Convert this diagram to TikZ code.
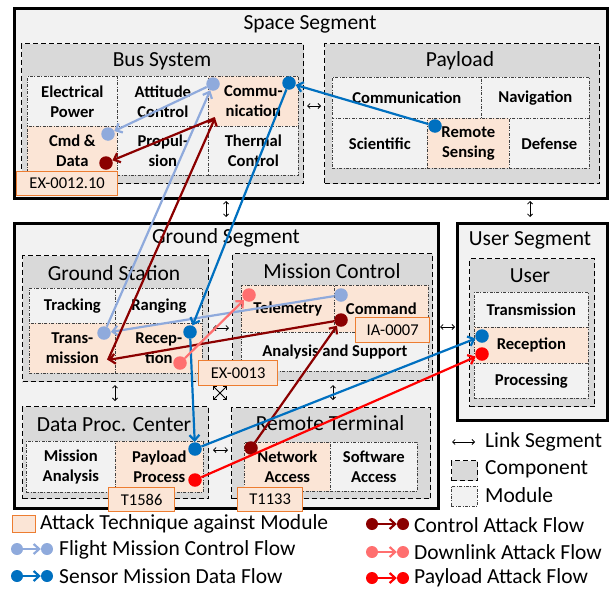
\documentclass[tikz,border=0pt]{standalone}
\usepackage{fontspec}
\setmainfont{Carlito}
\usetikzlibrary{arrows.meta}
\definecolor{segfill}{HTML}{F2F2F2}
\definecolor{compfill}{HTML}{D9D9D9}
\definecolor{peach}{HTML}{FBE5D6}
\definecolor{atkorange}{HTML}{ED7D31}
\definecolor{fltblue}{HTML}{8FAADC}
\definecolor{senblue}{HTML}{0070C0}
\definecolor{ctlred}{HTML}{8B0000}
\definecolor{dlpink}{HTML}{FF6F6F}
\definecolor{plred}{HTML}{FF0000}
\tikzset{
 segbox/.style={draw=black, line width=2.8pt, fill=segfill, anchor=north west, inner sep=0pt},
 compbox/.style={draw=black, line width=1.4pt, dash pattern=on 5pt off 3pt, fill=compfill, anchor=north west, inner sep=0pt},
 modbox/.style={draw=black!75, line width=0.7pt, dash pattern=on 3pt off 1.5pt on 0.8pt off 1.5pt, fill=segfill, anchor=north west, inner sep=0pt, align=center, font=\bfseries\fontsize{16.6}{20}\selectfont},
 atkmod/.style={modbox, fill=peach},
 techbox/.style={draw=atkorange, line width=1.3pt, fill=peach, anchor=north west, inner sep=0pt, font=\fontsize{16.5}{19}\selectfont},
 ttl/.style={font=\fontsize{21.5}{24}\selectfont, inner sep=0pt},
 legtxt/.style={font=\fontsize{21.5}{24}\selectfont, inner sep=0pt, anchor=west},
 linkarr/.style={line width=0.8pt, {Straight Barb[length=2.5pt,width=5pt]}-{Straight Barb[length=2.5pt,width=5pt]}},
 flow/.style={line width=2.2pt, -{Straight Barb[length=5.5pt,width=10pt]}},
 dot/.style={circle, inner sep=0pt, minimum size=13.5pt},
 ldot/.style={circle, inner sep=0pt, minimum size=12pt},
}
\begin{document}
\begin{tikzpicture}[x=1pt,y=-1pt]
\useasboundingbox (0,0) rectangle (612,589);
% ---------- segments ----------
\node[segbox, minimum width=593pt, minimum height=190pt] (space) at (13,7) {};
\node[segbox, minimum width=424pt, minimum height=285pt] (ground) at (13,222) {};
\node[segbox, minimum width=150pt, minimum height=197pt] (userseg) at (456,222) {};
\node[ttl] (tspace) at (310,24) {Space Segment};
\node[ttl] (tground) at (226,238) {Ground Segment};
\node[ttl] (tuserseg) at (530,240) {User Segment};
% ---------- components ----------
\node[compbox, minimum width=282pt, minimum height=140pt] (bus) at (21,43) {};
\node[compbox, minimum width=275pt, minimum height=140pt] (payload) at (324,43) {};
\node[compbox, minimum width=186pt, minimum height=126pt] (gs) at (22,255) {};
\node[compbox, minimum width=200pt, minimum height=127pt] (mc) at (232,253) {};
\node[compbox, minimum width=186pt, minimum height=92pt] (dpc) at (22,406) {};
\node[compbox, minimum width=199pt, minimum height=91pt] (rt) at (231,407) {};
\node[compbox, minimum width=125pt, minimum height=148pt] (user) at (469,258) {};
\node[ttl] (tbus) at (162,61) {Bus System};
\node[ttl] (tpay) at (460,61) {Payload};
\node[ttl] (tgs) at (114,273) {Ground Station};
\node[ttl] (tmc) at (332,271) {Mission Control};
\node[ttl] (tdpc) at (114,425) {Data Proc. Center};
\node[ttl] (trt) at (330,423) {Remote Terminal};
\node[ttl] (tuser) at (530,276) {User};
% ---------- modules ----------
% Bus
\node[modbox, minimum width=90pt, minimum height=50pt] (eps) at (27,76) {Electrical\\Power};
\node[modbox, minimum width=91pt, minimum height=50pt] (acs) at (117,76) {Attitude\\Control};
\node[atkmod, minimum width=90pt, minimum height=50pt] (bcom) at (208,76) {Commu-\\nication};
\node[atkmod, minimum width=90pt, minimum height=49pt] (cdh) at (27,126) {Cmd \&\\Data};
\node[modbox, minimum width=91pt, minimum height=49pt] (prop) at (117,126) {Propul-\\sion};
\node[modbox, minimum width=90pt, minimum height=49pt] (thc) at (208,126) {Thermal\\Control};
% Payload
\node[modbox, minimum width=149pt, minimum height=41pt] (pcom) at (332,77) {Communication};
\node[modbox, minimum width=108pt, minimum height=41pt] (pnav) at (481,77) {Navigation};
\node[modbox, minimum width=95pt, minimum height=50pt] (psci) at (332,118) {Scientific};
\node[atkmod, minimum width=82pt, minimum height=50pt] (prs) at (427,118) {Remote\\Sensing};
\node[modbox, minimum width=80pt, minimum height=50pt] (pdef) at (509,118) {Defense};
% Ground station
\node[modbox, minimum width=86pt, minimum height=35pt] (trk) at (29,288) {Tracking};
\node[modbox, minimum width=87pt, minimum height=35pt] (rng) at (115,288) {Ranging};
\node[atkmod, minimum width=86pt, minimum height=50pt] (gtx) at (29,323) {Trans-\\mission};
\node[atkmod, minimum width=87pt, minimum height=50pt] (grx) at (115,323) {Recep-\\tion};
% Mission control
\node[atkmod, minimum width=93pt, minimum height=47pt] (tlm) at (241,285) {Telemetry};
\node[atkmod, minimum width=94pt, minimum height=47pt] (cmd) at (334,285) {Command};
\node[modbox, minimum width=187pt, minimum height=39pt] (ans) at (241,332) {Analysis and Support};
% Data proc center
\node[modbox, minimum width=89pt, minimum height=51pt] (man) at (26,441) {Mission\\Analysis};
\node[atkmod, minimum width=88pt, minimum height=51pt] (ppr) at (115,441) {Payload\\Process};
% Remote terminal
\node[atkmod, minimum width=86pt, minimum height=49pt] (nac) at (244,442) {Network\\Access};
\node[modbox, minimum width=87pt, minimum height=49pt] (sac) at (330,442) {Software\\Access};
% User
\node[modbox, minimum width=114pt, minimum height=35pt] (utx) at (474,292) {Transmission};
\node[atkmod, minimum width=114pt, minimum height=36pt] (urx) at (474,327) {Reception};
\node[modbox, minimum width=114pt, minimum height=35pt] (upr) at (474,363) {Processing};
% ---------- attack technique labels ----------
\node[techbox, minimum width=101pt, minimum height=24pt] (ex12) at (16,171) {EX-0012.10};
\node[techbox, minimum width=79pt, minimum height=25pt] (ex13) at (198,360) {EX-0013};
\node[techbox, minimum width=74pt, minimum height=25pt] (ia7) at (355,317) {IA-0007};
\node[techbox, minimum width=66pt, minimum height=24pt] (t1586) at (108,487) {T1586};
\node[techbox, minimum width=65pt, minimum height=24pt] (t1133) at (237,487) {T1133};
% ---------- link segments ----------
\draw[linkarr] (307,106) -- (321,106);
\draw[linkarr] (226,201) -- (226,217);
\draw[linkarr] (530,201) -- (530,217);
\draw[linkarr] (213,328) -- (229,328);
\draw[linkarr] (440,327) -- (455,327);
\draw[linkarr] (115,385) -- (115,401);
\draw[linkarr] (213,386) -- (227,400);
\draw[linkarr] (213,400) -- (227,386);
\draw[linkarr] (333,385) -- (333,400);
\draw[linkarr] (213,450) -- (228,450);
% ---------- flow dots ----------
\node[dot, fill=fltblue] (lbCmd) at (341,295) {};
\node[dot, fill=fltblue] (lbTx) at (104,333) {};
\node[dot, fill=fltblue] (lbCom) at (213,84) {};
\node[dot, fill=fltblue] (lbCdh) at (108,134) {};
\node[dot, fill=ctlred] (crNa) at (251,448) {};
\node[dot, fill=ctlred] (crCmd) at (341,320) {};
\node[dot, fill=ctlred] (crCdh) at (106,163) {};
\coordinate (crTx) at (108,360);
\coordinate (crCom) at (215,118);
\node[dot, fill=senblue] (sbRs) at (435,126) {};
\node[dot, fill=senblue] (sbCom) at (289,83) {};
\node[dot, fill=senblue] (sbRx) at (190,332) {};
\node[dot, fill=senblue] (sbPp) at (195,449) {};
\node[dot, fill=senblue] (sbUr) at (482,336) {};
\node[dot, fill=dlpink] (dpRx) at (180,363) {};
\node[dot, fill=dlpink] (dpTlm) at (249,295) {};
\node[dot, fill=plred] (prPp) at (195,480) {};
\node[dot, fill=plred] (prUr) at (482,354) {};
% ---------- flows ----------
\draw[flow, fltblue] (lbCmd) -- (lbTx);
\draw[flow, fltblue] (lbTx) -- (lbCom);
\draw[flow, fltblue] (lbCom) -- (lbCdh);
\draw[flow, ctlred] (crNa) -- (crCmd);
\draw[flow, ctlred] (crCmd) -- (crTx);
\draw[flow, ctlred] (crTx) -- (crCom);
\draw[flow, ctlred] (crCom) -- (crCdh);
\draw[flow, senblue] (sbRs) -- (sbCom);
\draw[flow, senblue] (sbCom) -- (sbRx);
\draw[flow, senblue] (sbRx) -- (sbPp);
\draw[flow, senblue] (sbPp) -- (sbUr);
\draw[flow, dlpink] (dpRx) -- (dpTlm);
\draw[flow, plred] (prPp) -- (prUr);
% ---------- legend ----------
\draw[linkarr] (452,442) -- (475,442);
\node[legtxt] (lLink) at (485,442) {Link Segment};
\node[compbox, minimum width=26pt, minimum height=20pt] (legComp) at (451,460) {};
\node[legtxt] (lComp) at (485,469) {Component};
\node[modbox, minimum width=26pt, minimum height=20pt] (legMod) at (451,486) {};
\node[legtxt] (lMod) at (485,495) {Module};
\node[techbox, minimum width=23pt, minimum height=17pt] (legTech) at (12,515) {};
\node[legtxt] (lTech) at (40,524) {Attack Technique against Module};
\node[ldot, fill=fltblue] (lg1a) at (17,549) {};
\node[ldot, fill=fltblue] (lg1b) at (47,549) {};
\draw[flow, fltblue] (lg1a) -- (lg1b);
\node[legtxt] (lFl) at (59,550) {Flight Mission Control Flow};
\node[ldot, fill=senblue] (lg2a) at (17,576) {};
\node[ldot, fill=senblue] (lg2b) at (47,576) {};
\draw[flow, senblue] (lg2a) -- (lg2b);
\node[legtxt] (lSe) at (59,576) {Sensor Mission Data Flow};
\node[ldot, fill=ctlred] (lg3a) at (372,524) {};
\node[ldot, fill=ctlred] (lg3b) at (403,524) {};
\draw[flow, ctlred] (lg3a) -- (lg3b);
\node[legtxt] (lCt) at (414,525) {Control Attack Flow};
\node[ldot, fill=dlpink] (lg4a) at (372,552) {};
\node[ldot, fill=dlpink] (lg4b) at (403,552) {};
\draw[flow, dlpink] (lg4a) -- (lg4b);
\node[legtxt] (lDl) at (414,552) {Downlink Attack Flow};
\node[ldot, fill=plred] (lg5a) at (372,578) {};
\node[ldot, fill=plred] (lg5b) at (403,578) {};
\draw[flow, plred] (lg5a) -- (lg5b);
\node[legtxt] (lPl) at (414,578) {Payload Attack Flow};
\end{tikzpicture}
\end{document}
